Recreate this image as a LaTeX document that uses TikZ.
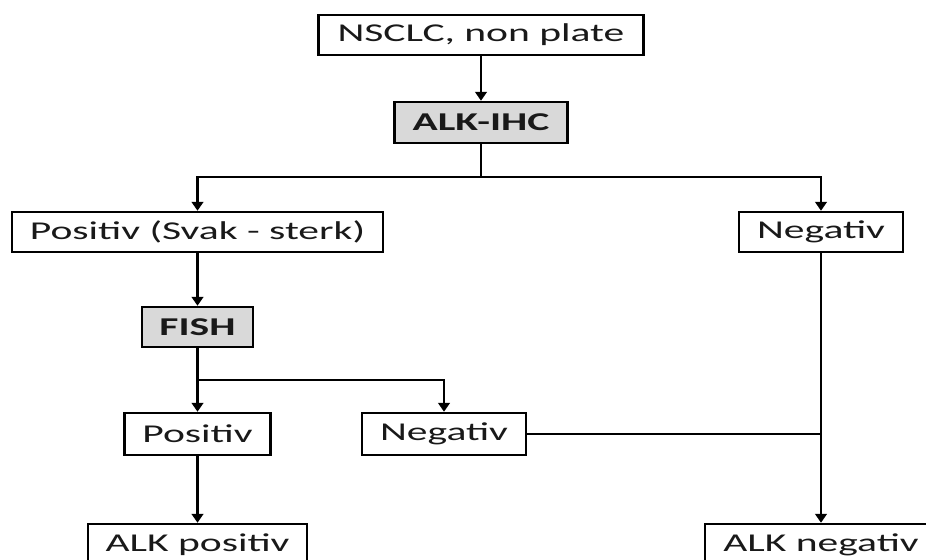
\documentclass[tikz,border=0pt]{standalone}
\usepackage{fontspec}
\setmainfont{Carlito}[FakeStretch=1.62]
\usetikzlibrary{arrows.meta}
\begin{document}
\begin{tikzpicture}[x=0.02cm,y=-0.02cm,
 box/.style={draw=black, line width=1.4pt, fill=white, inner sep=0pt, minimum height=0.8cm, font=\fontsize{14.6}{16}\selectfont, text=black!90},
 gbox/.style={box, fill=gray!30, font=\fontsize{14.6}{16}\selectfont\bfseries},
 arr/.style={line width=1.6pt, -{Triangle[width=6.5pt,length=5pt]}},
 ln/.style={line width=1.6pt},
 thinln/.style={line width=1pt}]
\useasboundingbox (0,0) rectangle (926,560);
\clip (0,0) rectangle (926,560);
\node[box, minimum width=6.5cm] (nsclc) at (481,35) {NSCLC, non plate};
\node[gbox, minimum width=3.46cm, minimum height=0.82cm] (ihc) at (481,122.5) {ALK-IHC};
\node[box, minimum width=7.42cm] (pos1) at (197.5,232) {Positiv (Svak - sterk)};
\node[box, minimum width=3.28cm] (neg1) at (821,232) {Negativ};
\node[gbox, minimum width=2.22cm] (fish) at (197.5,327) {FISH};
\node[box, minimum width=2.92cm, minimum height=0.84cm] (pos2) at (197.5,434) {Positiv};
\node[box, minimum width=3.28cm, minimum height=0.84cm] (neg2) at (444,434) {Negativ};
\node[box, minimum width=4.38cm, minimum height=0.84cm] (alkp) at (197.5,545) {ALK positiv};
\node[box, minimum width=4.64cm, minimum height=0.84cm] (alkn) at (821,545) {ALK negativ};
\coordinate (s1) at (481,177);
\coordinate (s2) at (197.5,380);
\draw[arr] (nsclc) -- (ihc);
\draw[ln] (ihc.south) -- (s1);
\draw[arr] (s1) -| (pos1.north);
\draw[arr] (s1) -| (neg1.north);
\draw[arr] (pos1) -- (fish);
\draw[ln] (fish.south) -- (s2);
\draw[arr] (s2) -- (pos2.north);
\draw[arr] (s2) -| (neg2.north);
\draw[arr] (pos2) -- (alkp);
\draw[arr] (neg1) -- (alkn);
\draw[thinln] (neg2.east) -- (neg1.south |- neg2.east);
\end{tikzpicture}
\end{document}
